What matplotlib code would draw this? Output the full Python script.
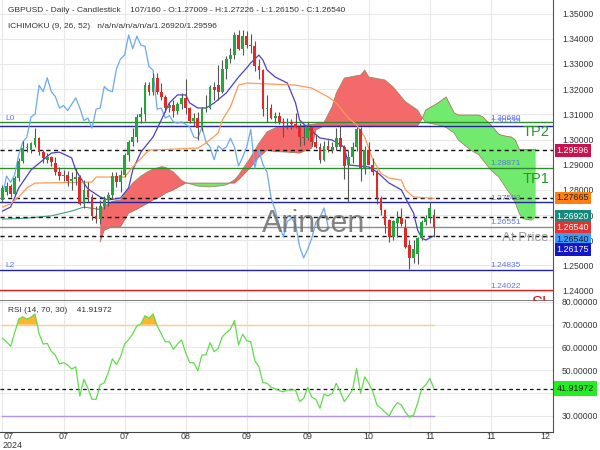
import numpy as np
import matplotlib
matplotlib.use('Agg')
import matplotlib.pyplot as plt

plt.rcParams['font.family'] = ['Liberation Sans', 'DejaVu Sans']

# GBPUSD daily candles, bar 0 .. 106
opens = [1.2760, 1.2790, 1.2815, 1.2785, 1.2848, 1.2915, 1.2968, 1.2960, 1.2980, 1.3005,
         1.2950, 1.2920, 1.2930, 1.2905, 1.2870, 1.2855, 1.2860, 1.2835, 1.2845, 1.2850,
         1.2745, 1.2800, 1.2770, 1.2695, 1.2685, 1.2735, 1.2760, 1.2780, 1.2855, 1.2830,
         1.2860, 1.2940, 1.2990, 1.3010, 1.3090, 1.3100, 1.3215, 1.3190, 1.3245, 1.3190,
         1.3170, 1.3125, 1.3135, 1.3115, 1.3140, 1.3165, 1.3125, 1.3075, 1.3085, 1.3045,
         1.3120, 1.3125, 1.3210, 1.3215, 1.3190, 1.3280, 1.3320, 1.3335, 1.3415, 1.3360,
         1.3410, 1.3375, 1.3370, 1.3290, 1.3275, 1.3120, 1.3125, 1.3085, 1.3095, 1.3070,
         1.3065, 1.3070, 1.3060, 1.3050, 1.3010, 1.3005, 1.3050, 1.2990, 1.2970, 1.2920,
         1.2975, 1.2960, 1.2970, 1.3005, 1.2970, 1.2900, 1.2930, 1.2970, 1.3040, 1.2887,
         1.2958, 1.2900, 1.2870, 1.2768, 1.2720, 1.2680, 1.2613, 1.2668, 1.2688, 1.2649,
         1.2581, 1.2530, 1.2545, 1.2609, 1.2672, 1.2692, 1.27009]
highs = [1.2818, 1.2830, 1.2825, 1.2855, 1.2925, 1.2995, 1.2985, 1.2990, 1.3045, 1.3010,
         1.2960, 1.2945, 1.2935, 1.2930, 1.2890, 1.2880, 1.2875, 1.2870, 1.2885, 1.2860,
         1.2840, 1.2830, 1.2785, 1.2735, 1.2760, 1.2775, 1.2790, 1.2870, 1.2870, 1.2880,
         1.2945, 1.3000, 1.3045, 1.3100, 1.3130, 1.3230, 1.3230, 1.3265, 1.3265, 1.3225,
         1.3175, 1.3150, 1.3155, 1.3150, 1.3185, 1.3240, 1.3130, 1.3105, 1.3110, 1.3130,
         1.3175, 1.3215, 1.3230, 1.3295, 1.3315, 1.3330, 1.3365, 1.3425, 1.3435, 1.3435,
         1.3430, 1.3420, 1.3390, 1.3320, 1.3280, 1.3175, 1.3140, 1.3110, 1.3110, 1.3085,
         1.3085, 1.3080, 1.3105, 1.3065, 1.3050, 1.3070, 1.3055, 1.3020, 1.2985, 1.2995,
         1.3000, 1.2990, 1.3045, 1.3055, 1.2980, 1.2960, 1.2990, 1.3050, 1.3050, 1.2975,
         1.2990, 1.2925, 1.2880, 1.2775, 1.2725, 1.2685, 1.2680, 1.2715, 1.2730, 1.2685,
         1.2600, 1.2600, 1.2612, 1.2680, 1.2700, 1.2752, 1.27226]
lows = [1.2750, 1.2780, 1.2770, 1.2778, 1.2835, 1.2905, 1.2950, 1.2945, 1.2970, 1.2940,
        1.2905, 1.2905, 1.2895, 1.2860, 1.2840, 1.2835, 1.2815, 1.2800, 1.2820, 1.2740,
        1.2730, 1.2750, 1.2680, 1.2670, 1.2665, 1.2725, 1.2735, 1.2765, 1.2810, 1.2790,
        1.2850, 1.2915, 1.2975, 1.2990, 1.3065, 1.3075, 1.3175, 1.3175, 1.3180, 1.3155,
        1.3110, 1.3110, 1.3090, 1.3100, 1.3120, 1.3100, 1.3065, 1.3055, 1.3000, 1.3035,
        1.3110, 1.3120, 1.3155, 1.3155, 1.3185, 1.3240, 1.3305, 1.3320, 1.3355, 1.3335,
        1.3365, 1.3345, 1.3270, 1.3240, 1.3095, 1.3070, 1.3080, 1.3065, 1.3060, 1.3010,
        1.3040, 1.3040, 1.3045, 1.2975, 1.2980, 1.3000, 1.2975, 1.2965, 1.2905, 1.2915,
        1.2950, 1.2945, 1.2960, 1.2955, 1.2845, 1.2750, 1.2905, 1.2955, 1.2835, 1.2865,
        1.2905, 1.2860, 1.2745, 1.2700, 1.2630, 1.2595, 1.2600, 1.2615, 1.2655, 1.2570,
        1.2486, 1.2510, 1.2505, 1.2600, 1.2660, 1.2670, 1.26150]
closes = [1.2808, 1.2815, 1.2785, 1.2848, 1.2915, 1.2968, 1.2972, 1.2985, 1.3005, 1.2950,
          1.2925, 1.2930, 1.2910, 1.2870, 1.2855, 1.2860, 1.2835, 1.2845, 1.2850, 1.2745,
          1.2800, 1.2770, 1.2695, 1.2685, 1.2735, 1.2760, 1.2780, 1.2855, 1.2830, 1.2860,
          1.2940, 1.2990, 1.3010, 1.3090, 1.3100, 1.3215, 1.3190, 1.3245, 1.3190, 1.3170,
          1.3125, 1.3135, 1.3115, 1.3140, 1.3165, 1.3125, 1.3075, 1.3085, 1.3045, 1.3120,
          1.3125, 1.3210, 1.3195, 1.3190, 1.3280, 1.3320, 1.3335, 1.3415, 1.3360, 1.3410,
          1.3375, 1.3370, 1.3290, 1.3275, 1.3120, 1.3125, 1.3085, 1.3095, 1.3070, 1.3065,
          1.3070, 1.3060, 1.3050, 1.3010, 1.3005, 1.3050, 1.2990, 1.2970, 1.2920, 1.2975,
          1.2960, 1.2970, 1.3005, 1.2970, 1.2895, 1.2930, 1.2970, 1.3040, 1.2887, 1.2958,
          1.2900, 1.2870, 1.2768, 1.2720, 1.2661, 1.2613, 1.2675, 1.2688, 1.2665, 1.2575,
          1.2530, 1.2565, 1.2609, 1.2672, 1.2690, 1.2728, 1.26540]

# ichimoku lines
tenkan_idx = [0, 2, 4, 7, 12, 14, 17, 18, 20, 21, 24, 26, 29, 31, 32, 34, 37, 39, 41, 43,
              45, 46, 48, 50, 52, 55, 58, 60, 61, 63, 64, 65, 67, 70, 72, 73, 75, 78, 81, 84,
              85, 90, 92, 95, 98, 99, 101, 102, 103, 104, 106]
tenkan_val = [1.2716, 1.2732, 1.2808, 1.2879, 1.2946, 1.2950, 1.2927, 1.2879, 1.2827, 1.2804,
              1.2772, 1.2760, 1.2768, 1.2808, 1.2879, 1.2950, 1.3010, 1.3077, 1.3145, 1.3177,
              1.3177, 1.3145, 1.3125, 1.3125, 1.3145, 1.3185, 1.3248, 1.3284, 1.3304, 1.3335,
              1.3315, 1.3276, 1.3248, 1.3224, 1.3145, 1.3077, 1.3046, 1.3006, 1.2998, 1.2970,
              1.2899, 1.2891, 1.2871, 1.2827, 1.2800, 1.2768, 1.2708, 1.2641, 1.2609, 1.2601,
              1.26175]
kijun_idx = [0, 2, 4, 6, 8, 22, 23, 30, 32, 36, 48, 50, 53, 54, 56, 58, 60, 72, 76, 80,
             82, 84, 85, 87, 89, 91, 93, 95, 98, 99, 101, 106]
kijun_val = [1.2732, 1.2745, 1.2772, 1.2808, 1.2827, 1.2831, 1.2851, 1.2851, 1.2891, 1.2958,
             1.2966, 1.2986, 1.3026, 1.3077, 1.3129, 1.3216, 1.3224, 1.3216, 1.3204, 1.3169,
             1.3145, 1.3105, 1.3085, 1.3058, 1.3010, 1.2919, 1.2865, 1.2847, 1.2839, 1.2800,
             1.2772, 1.27665]
lead_idx = [0, 6, 12, 17, 20, 24]
lead_val = [1.2684, 1.2688, 1.2697, 1.2716, 1.2732, 1.2722]
cloud_idx = [24, 25, 27, 29, 31, 32, 34, 36, 37, 39, 40, 42, 44, 45, 48, 51, 53, 55, 57, 58,
             61, 63, 65, 67, 70, 73, 76, 77, 79, 81, 82, 84, 88, 89, 90, 94, 96, 99, 102, 103,
             104, 107, 109, 111, 112, 115, 117, 118, 120, 122, 124, 125, 126, 127, 128, 130, 131]
span_a = [1.2722, 1.2735, 1.2755, 1.2760, 1.2805, 1.2827, 1.2855, 1.2875, 1.2882, 1.2892,
          1.2890, 1.2871, 1.2838, 1.2829, 1.2815, 1.2812, 1.2815, 1.2820, 1.2840, 1.2858,
          1.2930, 1.2985, 1.3030, 1.3046, 1.3054, 1.3054, 1.3060, 1.3062, 1.3068, 1.3130,
          1.3184, 1.3244, 1.3256, 1.3276, 1.3248, 1.3236, 1.3208, 1.3150, 1.3117, 1.3089,
          1.3068, 1.3058, 1.3048, 1.3025, 1.2998, 1.2958, 1.2940, 1.2919, 1.2879, 1.2850,
          1.2800, 1.2778, 1.2748, 1.2705, 1.2685, 1.2680, 1.2692]
span_b = [1.2594, 1.2640, 1.2654, 1.2654, 1.2708, 1.2715, 1.2732, 1.2750, 1.2760, 1.2775,
          1.2787, 1.2800, 1.2818, 1.2827, 1.2827, 1.2827, 1.2827, 1.2827, 1.2827, 1.2840,
          1.2890, 1.2930, 1.2958, 1.2952, 1.2950, 1.2946, 1.2966, 1.3038, 1.3054, 1.3054,
          1.3054, 1.3054, 1.3054, 1.3054, 1.3054, 1.3054, 1.3054, 1.3054, 1.3054, 1.3080,
          1.3117, 1.3145, 1.3169, 1.3105, 1.3097, 1.3097, 1.3097, 1.3090, 1.3058, 1.3020,
          1.3012, 1.3010, 1.2998, 1.2960, 1.2960, 1.2960, 1.2960]

rsi = [64.0, 62.5, 60.5, 66.5, 72.5, 73.5, 72.4, 73.3, 74.7, 66.0,
       61.5, 61.8, 58.3, 56.5, 52.8, 53.3, 52.3, 50.5, 51.5, 38.6,
       46.0, 42.0, 37.2, 37.2, 43.5, 44.5, 49.0, 55.0, 52.5, 55.9,
       61.5, 63.5, 66.0, 69.5, 70.3, 74.0, 72.8, 74.7, 69.5, 66.0,
       62.5, 62.5, 59.2, 61.5, 63.3, 57.7, 53.3, 53.3, 49.8, 56.7,
       56.7, 62.1, 58.1, 59.6, 64.7, 66.5, 68.0, 71.8, 61.1, 65.8,
       63.0, 62.5, 54.2, 51.5, 44.5, 44.3, 42.5, 41.8, 41.0, 40.5,
       41.3, 41.3, 41.3, 36.2, 37.6, 42.5, 38.1, 37.2, 33.3, 39.5,
       38.7, 39.8, 44.2, 40.5, 36.2, 38.7, 41.3, 50.8, 39.8, 47.1,
       44.2, 40.5, 34.7, 33.3, 31.5, 29.9, 33.3, 35.7, 34.7, 31.5,
       29.3, 30.3, 35.5, 42.0, 43.5, 46.4, 41.91972]

# horizontal levels: (price, colour, style)
levels = [(1.30680, '#2e8b2e', '-'), (1.30539, '#2323a8', '-'), (1.29596, '#111111', '--'),
          (1.28871, '#2e8b2e', '-'), (1.27665, '#111111', '--'), (1.27503, '#2323a8', '-'),
          (1.26920, '#111111', '--'), (1.26540, '#8c8c8c', '-'), (1.26175, '#111111', '--'),
          (1.24835, '#2323a8', '-'), (1.24022, '#cc2222', '-')]
level_labels = [('1.30680', 1.30680), ('1.30539', 1.30539), ('1.28871', 1.28871),
                ('1.27503', 1.27503), ('1.26551', 1.26540), ('1.24835', 1.24835),
                ('1.24022', 1.24022)]
# right-hand value boxes: (text, shown at, face, text colour)
boxes = [('1.29596', 1.2958, '#c8144e', 'white'), ('1.27665', 1.2768, '#ff7f10', '#222222'),
         ('1.26920', 1.2696, '#16897e', 'white'), ('1.26540', 1.2649, '#e23232', 'white'),
         ('1.26540', 1.2605, '#3a9cff', '#1a1a1a'), ('1.26175', 1.25635, '#1515c8', 'white')]
xtick_pos = [15, 30, 45, 60, 75, 90, 105, 120, 133.3]
xtick_lab = ['07', '07', '08', '09', '09', '10', '11', '11', '12']

fig = plt.figure(figsize=(6, 4.5), dpi=100)
ax = fig.add_axes([0, 1 - 301 / 450, 553 / 600, 301 / 450])
ax2 = fig.add_axes([0, 1 - 431.5 / 450, 553 / 600, 130.5 / 450])
xmin, xmax = -0.61, 135.26
grid_x = [0, 15, 30, 45, 60, 75, 90, 105, 120]

# ---- price panel ----
ca, cb, cx = np.array(span_a), np.array(span_b), np.array(cloud_idx)
ax.fill_between(cx, ca, cb, where=ca >= cb, interpolate=True, color='#f46a6a', lw=0, zorder=1)
ax.fill_between(cx, ca, cb, where=ca < cb, interpolate=True, color='#72ea6e', lw=0, zorder=1)
ax.plot(cx, ca, color='#9c8c62', lw=0.6, zorder=1.5)
ax.plot(cx, cb, color='#a8745a', lw=0.6, zorder=1.5)
ax.plot(lead_idx, lead_val, color='#3e9e7a', lw=0.8, zorder=1.5)

for price, col, ls in levels:
    ax.axhline(price, color=col, lw=1.0, ls=ls, dashes=(3, 2.5) if ls == '--' else (None, None), zorder=2)

idx = np.arange(len(closes))
ax.plot(idx[:len(closes) - 26], closes[26:], color='#6aaaf0', lw=0.9, zorder=2.5)
ax.plot(tenkan_idx, tenkan_val, color='#4b40c8', lw=0.9, zorder=2.5)
ax.plot(kijun_idx, kijun_val, color='#ff9a55', lw=0.9, zorder=2.5)

o, h, l, c = map(np.array, (opens, highs, lows, closes))
up = c >= o
colors = np.where(up, '#22a83a', '#e02a2a')
ax.vlines(idx, l, h, color='#555555', lw=0.8, zorder=3)
ax.bar(idx, np.maximum(np.abs(c - o), 0.00012), bottom=np.minimum(o, c), width=0.68,
       color=colors, lw=0, zorder=4)

for txt, price in level_labels:
    ax.text(119.8, price + 0.0002, txt, fontsize=6, color='#6276e0', ha='left', va='bottom', zorder=5)
ax.text(0.6, 1.30680 + 0.0002, 'L0', fontsize=6, color='#6276e0', va='bottom')
ax.text(0.6, 1.24835 + 0.0002, 'L2', fontsize=6, color='#6276e0', va='bottom')
ax.text(131.0, 1.3028, 'TP2', fontsize=10.5, color='#229a22', ha='center', va='center', zorder=5)
ax.text(131.0, 1.2843, 'TP1', fontsize=10.5, color='#229a22', ha='center', va='center', zorder=5)
ax.text(128.4, 1.2609, 'At Price', fontsize=9.5, color='#9a9a9a', ha='center', va='center', zorder=5)
ax.text(132.4, 1.2351, 'SL', fontsize=12, color='#cc2222', ha='center', va='center', clip_on=True)
ax.text(76.5, 1.2664, 'Arincen', fontsize=22, color='#707070', alpha=0.85,
        ha='center', va='center', zorder=6)

ax.set_xlim(xmin, xmax)
ax.set_ylim(1.23591, 1.35536)
ax.set_yticks(np.arange(1.24, 1.3501, 0.01))
ax.yaxis.set_major_formatter(matplotlib.ticker.FormatStrFormatter('%.5f'))
ax.yaxis.tick_right()
ax.set_xticks(grid_x)
ax.set_xticklabels([])
ax.tick_params(axis='both', length=0, labelsize=6.2, colors='#333333', pad=6.5)
ax.grid(True, color='#e8e8e8', lw=0.8, zorder=0)
ax.set_axisbelow(True)
for side in ('left', 'top'):
    ax.spines[side].set_visible(False)
ax.spines['right'].set_color('#555555')
ax.spines['bottom'].set_color('#666666')
ax.spines['bottom'].set_linewidth(1.2)

ytf = ax.get_yaxis_transform()
for txt, y, fc, tc in boxes:
    ax.text(1.0065, y, txt, transform=ytf, fontsize=6.4, color=tc, ha='left', va='center',
            bbox=dict(boxstyle='square,pad=0.22', fc=fc, ec='none'), clip_on=False, zorder=7)

# ---- RSI panel ----
r = np.array(rsi)
ax2.fill_between(idx, r, 70, where=r > 70, interpolate=True, color='#ffb52e', lw=0)
ax2.fill_between(idx, r, 30, where=r < 30, interpolate=True, color='#8c6fe0', lw=0)
ax2.plot([0, idx[-1]], [70, 70], color='#ffcf7a', lw=1.0)
ax2.plot([0, idx[-1]], [30, 30], color='#b393e6', lw=1.0)
ax2.axhline(rsi[-1], color='#111111', lw=0.9, ls='--', dashes=(3, 2.5))
ax2.plot(idx, r, color='#62dc4e', lw=0.9)
ax2.set_xlim(xmin, xmax)
ax2.set_ylim(23.05, 80.42)
ax2.set_yticks([30, 40, 50, 60, 70, 80])
ax2.yaxis.set_major_formatter(matplotlib.ticker.FormatStrFormatter('%.5f'))
ax2.yaxis.tick_right()
ax2.set_xticks(grid_x)
ax2.set_xticklabels([])
ax2.tick_params(axis='both', length=0, labelsize=6.2, colors='#333333', pad=6.5)
ax2.grid(True, color='#e8e8e8', lw=0.8)
ax2.set_axisbelow(True)
for side in ('left', 'top'):
    ax2.spines[side].set_visible(False)
ax2.spines['right'].set_color('#555555')
ax2.spines['bottom'].set_color('#444444')
ax2.text(1.0065, rsi[-1], '41.91972', transform=ax2.get_yaxis_transform(), fontsize=6.4,
         color='#1a1a1a', ha='left', va='center',
         bbox=dict(boxstyle='square,pad=0.3', fc='#22ee22', ec='none'), clip_on=False, zorder=7)

xtf = ax2.get_xaxis_transform()
ax2.text(0.4, -0.042, '07', transform=xtf, fontsize=6.4, color='#333333', ha='left', va='center')
ax2.text(0.0, -0.108, '2024', transform=xtf, fontsize=6.4, color='#333333', ha='left', va='center')
for pos, lab in zip(xtick_pos, xtick_lab):
    ax2.text(pos, -0.042, lab, transform=xtf, fontsize=6.4, color='#333333', ha='center', va='center')

fig.text(8 / 600, 1 - 10 / 450,
         'GBPUSD - Daily - Candlestick    107/160 - O:1.27009 - H:1.27226 - L:1.26150 - C:1.26540',
         fontsize=6.0, color='#333333', va='center')
fig.text(8 / 600, 1 - 26 / 450, 'ICHIMOKU (9, 26, 52)   n/a/n/a/n/a/n/a/1.26920/1.29596',
         fontsize=6.0, color='#333333', va='center')
fig.text(8 / 600, 1 - 311 / 450, 'RSI (14, 70, 30)    41.91972', fontsize=6.0, color='#333333', va='center')

fig.savefig('out.png', dpi=100)
